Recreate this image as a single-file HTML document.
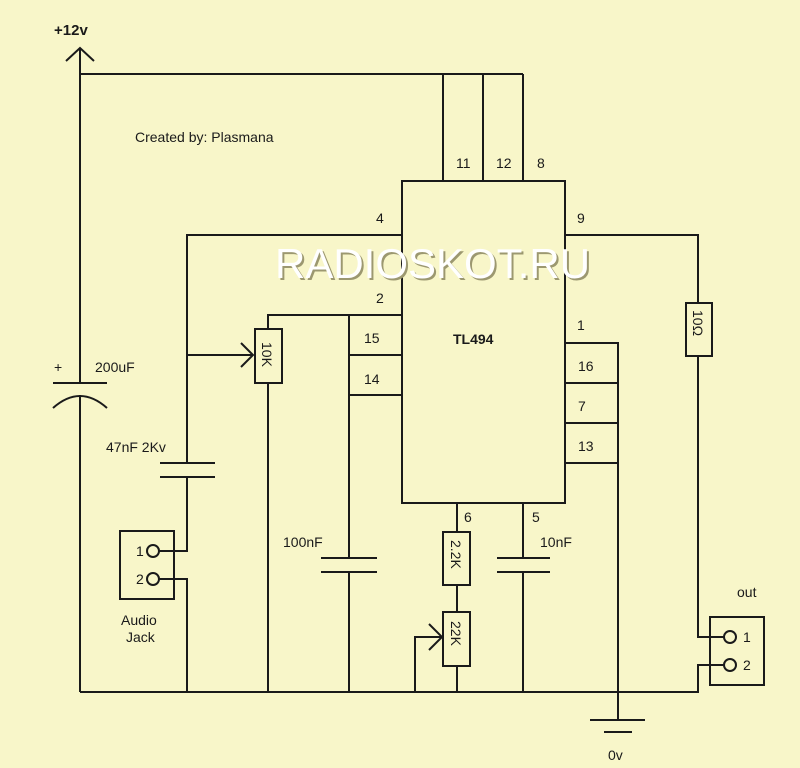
<!DOCTYPE html>
<html><head><style>
body{margin:0;background:#f8f6c9;}
svg{display:block}
text{font-family:"Liberation Sans",sans-serif;fill:#1a1a1a;font-size:14px}
</style></head><body>
<svg width="800" height="768" viewBox="0 0 800 768">
<rect width="800" height="768" fill="#f8f6c9"/>
<g stroke="#1a1a1a" stroke-width="2" fill="none">
<line x1="80" y1="48" x2="80" y2="383"/>
<polyline points="66,61 80,48 94,61"/>
<line x1="80" y1="74" x2="523" y2="74"/>
<line x1="443" y1="74" x2="443" y2="181"/>
<line x1="483" y1="74" x2="483" y2="181"/>
<line x1="523" y1="74" x2="523" y2="181"/>
<rect x="402" y="181" width="163" height="322"/>
<line x1="53" y1="383" x2="107" y2="383"/>
<path d="M53,408 Q80,384 107,408"/>
<line x1="80" y1="395" x2="80" y2="692"/>
<polyline points="402,235 187,235 187,463"/>
<line x1="160" y1="463" x2="215" y2="463"/>
<line x1="160" y1="477" x2="215" y2="477"/>
<polyline points="187,477 187,551 159,551"/>
<polyline points="159,579 187,579 187,692"/>
<rect x="120" y="531" width="54" height="68"/>
<circle cx="153" cy="551" r="6"/>
<circle cx="153" cy="579" r="6"/>
<polyline points="402,315 268,315 268,329"/>
<rect x="255" y="329" width="27" height="54"/>
<line x1="268" y1="383" x2="268" y2="692"/>
<line x1="187" y1="355" x2="253" y2="355"/>
<polyline points="241,343 253,355 241,367"/>
<line x1="349" y1="315" x2="349" y2="558"/>
<line x1="349" y1="355" x2="402" y2="355"/>
<line x1="349" y1="395" x2="402" y2="395"/>
<line x1="321" y1="558" x2="377" y2="558"/>
<line x1="321" y1="572" x2="377" y2="572"/>
<line x1="349" y1="572" x2="349" y2="692"/>
<line x1="457" y1="503" x2="457" y2="532"/>
<rect x="443" y="532" width="27" height="53"/>
<line x1="457" y1="585" x2="457" y2="612"/>
<rect x="443" y="612" width="27" height="54"/>
<line x1="457" y1="666" x2="457" y2="692"/>
<polyline points="415,692 415,637 442,637"/>
<polyline points="429,624 442,637 429,650"/>
<line x1="523" y1="503" x2="523" y2="558"/>
<line x1="497" y1="558" x2="550" y2="558"/>
<line x1="497" y1="572" x2="550" y2="572"/>
<line x1="523" y1="572" x2="523" y2="692"/>
<polyline points="565,343 618,343 618,720"/>
<line x1="565" y1="383" x2="618" y2="383"/>
<line x1="565" y1="423" x2="618" y2="423"/>
<line x1="565" y1="463" x2="618" y2="463"/>
<line x1="590" y1="720" x2="645" y2="720"/>
<line x1="604" y1="732" x2="632" y2="732"/>
<polyline points="565,235 698,235 698,303"/>
<rect x="686" y="303" width="26" height="53"/>
<polyline points="698,356 698,637 724,637"/>
<polyline points="80,692 698,692 698,665 724,665"/>
<rect x="710" y="617" width="54" height="68"/>
<circle cx="730" cy="637" r="6"/>
<circle cx="730" cy="665" r="6"/>
</g>
<text x="54" y="35" font-weight="bold" style="font-size:15px">+12v</text>
<text x="135" y="142">Created by: Plasmana</text>
<text x="456" y="168">11</text>
<text x="496" y="168">12</text>
<text x="537" y="168">8</text>
<text x="376" y="223">4</text>
<text x="577" y="223">9</text>
<text x="376" y="303">2</text>
<text x="364" y="343">15</text>
<text x="364" y="384">14</text>
<text x="577" y="330">1</text>
<text x="578" y="371">16</text>
<text x="578" y="411">7</text>
<text x="578" y="451">13</text>
<text x="453" y="344" font-weight="bold">TL494</text>
<text x="54" y="372">+</text>
<text x="95" y="372">200uF</text>
<text x="106" y="452">47nF 2Kv</text>
<text x="136" y="556">1</text>
<text x="136" y="584">2</text>
<text x="121" y="625">Audio</text>
<text x="126" y="642">Jack</text>
<text x="283" y="547">100nF</text>
<text x="464" y="522">6</text>
<text x="532" y="522">5</text>
<text x="540" y="547">10nF</text>
<text x="737" y="597">out</text>
<text x="743" y="642">1</text>
<text x="743" y="670">2</text>
<text x="608" y="760">0v</text>
<text transform="translate(262,342) rotate(90)">10K</text>
<text transform="translate(451,540) rotate(90)">2.2K</text>
<text transform="translate(451,621) rotate(90)">22K</text>
<text transform="translate(693,310) rotate(90)">10Ω</text>
<text x="277" y="280" style="font-size:42px;fill:#9c9870">RADIOSKOT.RU</text>
<text x="275" y="278" style="font-size:42px;fill:#ffffff">RADIOSKOT.RU</text>
</svg>
</body></html>
